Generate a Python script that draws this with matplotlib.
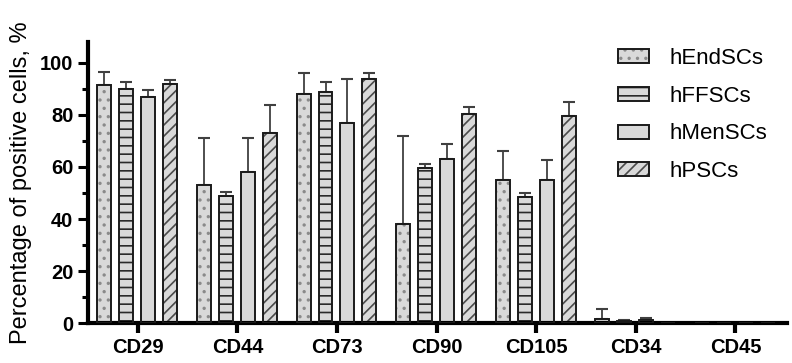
import matplotlib
matplotlib.use("Agg")
import matplotlib.pyplot as plt
import numpy as np
from matplotlib.ticker import MultipleLocator
from matplotlib.legend_handler import HandlerTuple

categories = ["CD29", "CD44", "CD73", "CD90", "CD105", "CD34", "CD45"]
series = ["hEndSCs", "hFFSCs", "hMenSCs", "hPSCs"]
hEndSCs = [91.5, 53, 88, 38, 55, 1.5, 0]
hFFSCs = [90, 49, 89, 59.5, 48.5, 0.8, 0]
hMenSCs = [87, 58, 77, 63, 55, 1.0, 0]
hPSCs = [92, 73, 94, 80.5, 79.5, 0, 0]
err_hEndSCs = [5, 18, 8, 34, 11, 4, 0]
err_hFFSCs = [2.5, 1.5, 3.5, 1.5, 1.5, 0.4, 0]
err_hMenSCs = [2.5, 13, 17, 6, 7.5, 0.8, 0]
err_hPSCs = [1.5, 11, 2, 2.5, 5.5, 0, 0]

values = [hEndSCs, hFFSCs, hMenSCs, hPSCs]
errors = [err_hEndSCs, err_hFFSCs, err_hMenSCs, err_hPSCs]
hatches = ["..", "--", "", "///"]
hatch_colors = ["#8a8a8a", "#2a2a2a", "#d9d9d9", "#4a4a4a"]

plt.rcParams['font.family'] = ['Liberation Sans', 'DejaVu Sans']
plt.rcParams['hatch.linewidth'] = 1.2

fig = plt.figure(figsize=(7.92, 3.63), dpi=100)
ax = fig.add_axes([0.111, 0.110, 0.883, 0.774])

x = np.arange(len(categories))
offsets = [-0.335, -0.115, 0.105, 0.325]
width = 0.14
handles = []
for i, (vals, errs, h, name) in enumerate(zip(values, errors, hatches, series)):
    b1 = ax.bar(x + offsets[i], vals, width, color="#d9d9d9", edgecolor=hatch_colors[i],
                linewidth=0, hatch=h, zorder=2)
    b2 = ax.bar(x + offsets[i], vals, width, fill=False, edgecolor="#1a1a1a",
                linewidth=1.4, zorder=3)
    ax.errorbar(x + offsets[i], vals, yerr=[np.zeros(len(vals)), errs], fmt="none",
                ecolor="#404040", elinewidth=1.3, capsize=4, capthick=1.5, zorder=1)
    handles.append((b1.patches[0], b2.patches[0]))

ax.set_xlim(-0.5, 6.52)
ax.set_ylim(0, 108)
ax.set_xticks(x)
ax.set_xticklabels(categories, fontsize=14.5, fontweight="bold")
ax.yaxis.set_major_locator(MultipleLocator(20))
ax.yaxis.set_minor_locator(MultipleLocator(10))
ax.tick_params(axis="y", which="major", labelsize=14.5, width=2.2, length=7, direction="out")
ax.tick_params(axis="y", which="minor", width=2.2, length=4)
ax.tick_params(axis="x", width=3, length=7, pad=4)
for lbl in ax.get_yticklabels():
    lbl.set_fontweight("bold")
ax.set_ylabel("Percentage of positive cells, %", fontsize=17, labelpad=6)
for s in ["top", "right"]:
    ax.spines[s].set_visible(False)
ax.spines["left"].set_linewidth(3)
ax.spines["bottom"].set_linewidth(3)

leg = ax.legend(handles, series, loc="upper right", bbox_to_anchor=(1.0, 1.05), frameon=False,
                fontsize=16, handlelength=1.4, handleheight=0.6, labelspacing=0.75,
                handletextpad=0.9, handler_map={tuple: HandlerTuple(ndivide=1, pad=0)})

fig.savefig("out.png", dpi=100)
